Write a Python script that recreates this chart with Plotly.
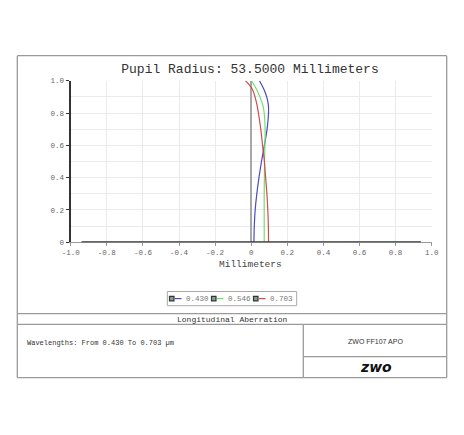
import plotly.graph_objects as go

W, H = 464, 435
BODY = 8  # default page margin in the written html

# pupil height (normalised) and longitudinal aberration (mm) per wavelength
pupil = [0.0, 0.1, 0.2, 0.3, 0.4, 0.5, 0.6, 0.7, 0.8, 0.85, 0.9, 0.95, 1.0]
ab_430 = [0.015, 0.017, 0.022, 0.031, 0.043, 0.057, 0.073, 0.088, 0.096, 0.095, 0.086, 0.069, 0.046]
ab_546 = [0.072, 0.072, 0.072, 0.072, 0.073, 0.074, 0.076, 0.077, 0.072, 0.064, 0.048, 0.028, 0.002]
ab_703 = [0.096, 0.095, 0.092, 0.087, 0.080, 0.073, 0.063, 0.053, 0.040, 0.032, 0.021, 0.005, -0.032]

wavelengths = ["0.430", "0.546", "0.703"]
colors = ["#4a4ac8", "#6ee06e", "#d24a4a"]

x_ticks = [-1.0, -0.8, -0.6, -0.4, -0.2, 0.0, 0.2, 0.4, 0.6, 0.8, 1.0]
x_labels = ["-1.0", "-0.8", "-0.6", "-0.4", "-0.2", "0", "0.2", "0.4", "0.6", "0.8", "1.0"]
y_ticks = [0.0, 0.2, 0.4, 0.6, 0.8, 1.0]
y_labels = ["0", "0.2", "0.4", "0.6", "0.8", "1.0"]

MONO = "Liberation Mono, Courier New, monospace"


def px(x):
    return (x - BODY) / W


def py(y):
    return 1 - (y - BODY) / H


def label(text, x, y, size, color="#333", family=MONO, xanchor="center"):
    return dict(text=text, x=px(x), y=py(y), xref="paper", yref="paper",
                xanchor=xanchor, yanchor="middle", showarrow=False,
                font=dict(family=family, size=size, color=color))


fig = go.Figure()
for ab, wl, c in zip([ab_430, ab_546, ab_703], wavelengths, colors):
    fig.add_trace(go.Scatter(x=ab, y=pupil, mode="lines", name=wl, showlegend=False,
                             line=dict(color=c, width=1.2, shape="spline")))

# frame / table lines (pixel positions)
frame_lines = [
    (17.3, 55.7, 446.7, 55.7), (17.3, 377.7, 446.7, 377.7),
    (17.3, 55.7, 17.3, 377.7), (446.7, 55.7, 446.7, 377.7),
    (17.3, 313.7, 446.7, 313.7), (17.3, 324.3, 446.7, 324.3),
    (303.3, 324.3, 303.3, 377.7), (303.3, 356.7, 446.7, 356.7),
]
shapes = [dict(type="line", xref="paper", yref="paper",
               x0=px(a), y0=py(b), x1=px(c), y1=py(d),
               line=dict(color="#9a9a9a", width=1.3)) for a, b, c, d in frame_lines]
# heavy base line
shapes.append(dict(type="line", xref="x", yref="y", x0=-0.94, x1=0.94, y0=0, y1=0,
                   line=dict(color="#333333", width=2.2), layer="above"))

annotations = [
    label("Millimeters", 250.5, 264.5, 9.5, "#444"),
    label("Longitudinal Aberration", 232, 319.3, 8),
    label("Wavelengths: From 0.430 To 0.703 µm", 24.5, 343, 7, xanchor="left"),
    label("ZWO FF107 APO", 375.5, 341.5, 7, family="Liberation Sans Narrow, Liberation Sans"),
    label("<b><i>zwo</i></b>", 375.5, 366.5, 14, "#111", family="DejaVu Sans"),
]

# legend box drawn by hand (checkbox icon, short line, label)
leg_top, leg_bot = 291.5, 305.7
shapes.append(dict(type="rect", xref="paper", yref="paper", x0=px(167.3), x1=px(296.7),
                   y0=py(leg_bot), y1=py(leg_top), line=dict(color="#a8a8a8", width=1)))
leg_mid = (leg_top + leg_bot) / 2
for i, (wl, c) in enumerate(zip(wavelengths, colors)):
    x0 = 169.5 + i * 42
    shapes.append(dict(type="rect", xref="paper", yref="paper", x0=px(x0), x1=px(x0 + 4.5),
                       y0=py(leg_mid + 2.3), y1=py(leg_mid - 2.3),
                       fillcolor="#8e9a8e", line=dict(color="#2f3a2f", width=1.2)))
    shapes.append(dict(type="line", xref="paper", yref="paper", x0=px(x0 + 5.5), x1=px(x0 + 12),
                       y0=py(leg_mid), y1=py(leg_mid), line=dict(color=c, width=1.2)))
    annotations.append(label(wl, x0 + 14.5, leg_mid, 7.5, "#777", xanchor="left"))

fig.update_layout(
    width=W, height=H, autosize=False,
    margin=dict(l=0, r=0, t=0, b=0, pad=0, autoexpand=False),
    paper_bgcolor="white", plot_bgcolor="white",
    showlegend=False,
    title=dict(text="Pupil Radius: 53.5000 Millimeters", x=px(250), xanchor="center",
               y=py(68), yanchor="middle", xref="paper", yref="paper",
               font=dict(family=MONO, size=13, color="#333")),
    xaxis=dict(domain=[px(70.7), px(431.7)], range=[-1, 1], tickvals=x_ticks, ticktext=x_labels,
               showgrid=True, gridcolor="#ebebeb", gridwidth=1, automargin=False,
               zeroline=True, zerolinecolor="#a8a8a8", zerolinewidth=1.5,
               showline=True, linecolor="#999", linewidth=1,
               ticks="outside", ticklen=3, tickcolor="#999",
               tickfont=dict(family=MONO, size=7.5, color="#666")),
    yaxis=dict(domain=[py(242.3), py(80.7)], range=[0, 1], tickvals=y_ticks, ticktext=y_labels,
               showgrid=True, gridcolor="#ebebeb", gridwidth=1, automargin=False,
               minor=dict(dtick=0.1, showgrid=True, gridcolor="#ebebeb"),
               zeroline=False, showline=True, linecolor="#333", linewidth=2.2,
               ticks="outside", ticklen=3, tickcolor="#333",
               tickfont=dict(family=MONO, size=7.5, color="#666")),
    shapes=shapes,
    annotations=annotations,
)

fig.write_html("out.html")
